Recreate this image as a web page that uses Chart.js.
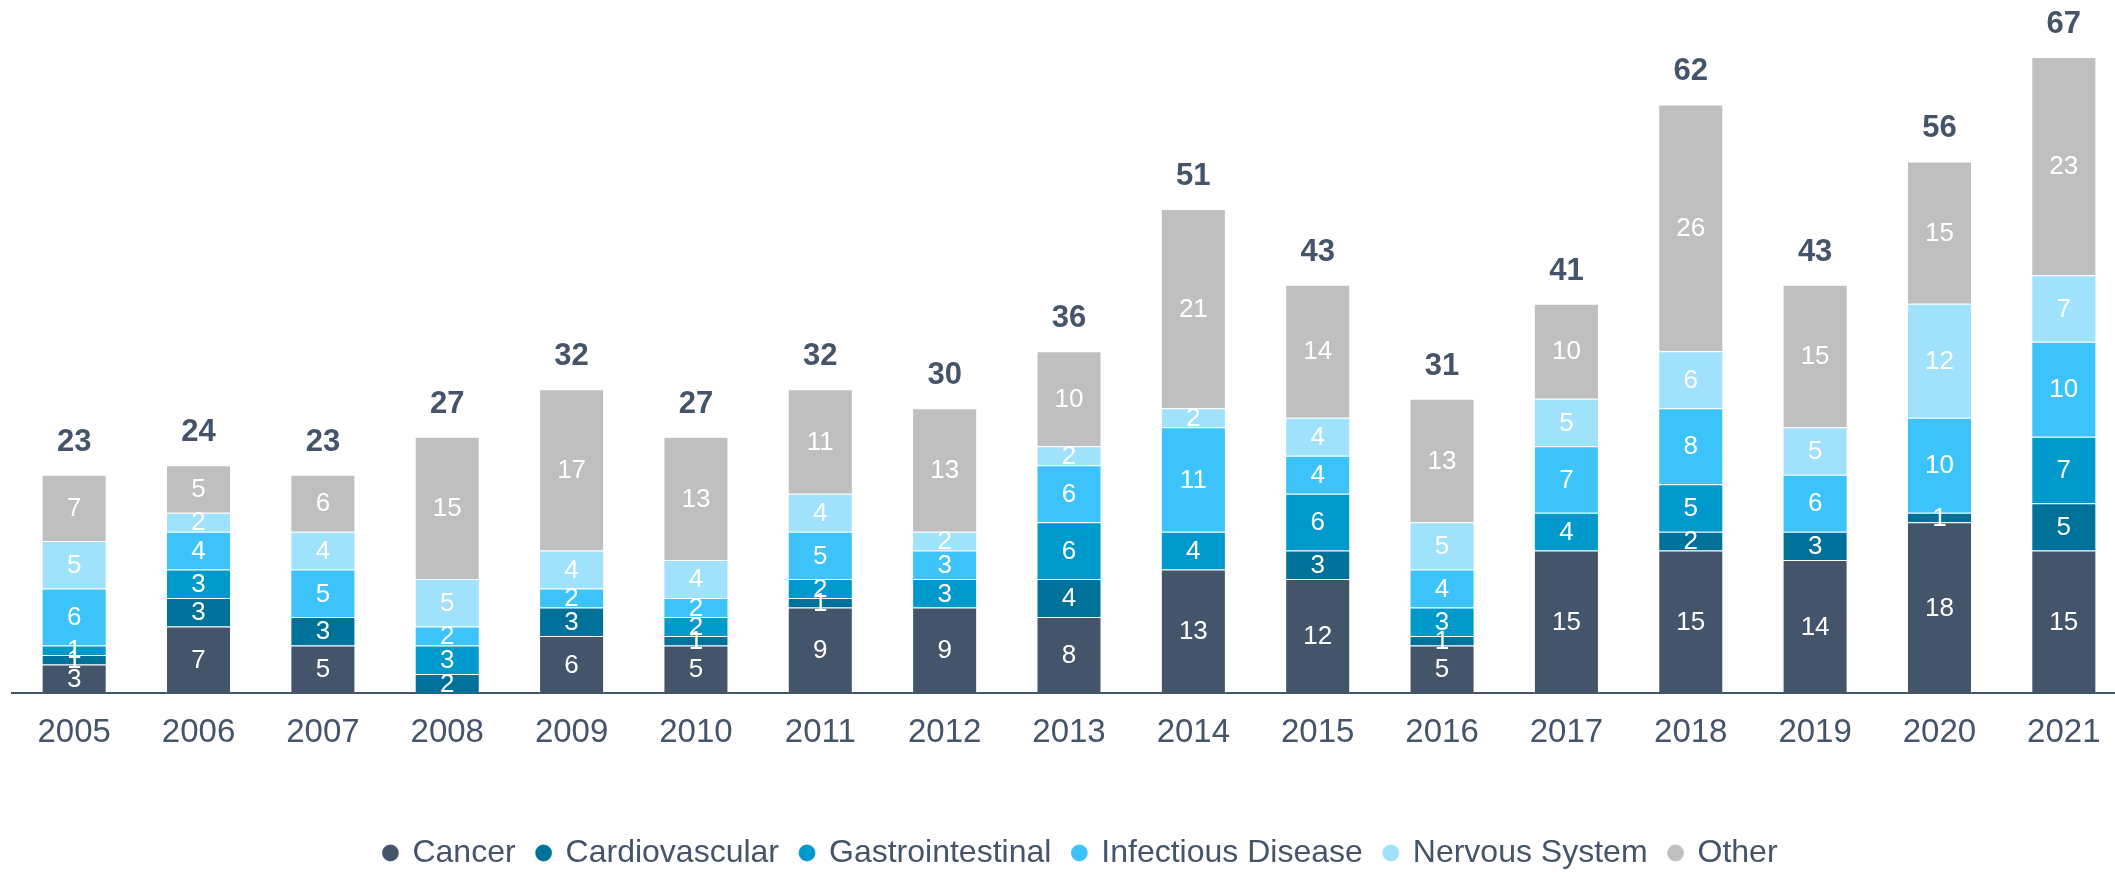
<!DOCTYPE html>
<html>
<head>
<meta charset="utf-8">
<script src="https://cdn.jsdelivr.net/npm/chart.js@4.4.1/dist/chart.umd.min.js"></script>
<style>
  html, body { margin: 0; padding: 0; background: #fff; overflow: hidden; }
  #outer { width: 2115px; height: 873px; overflow: hidden; position: relative; }
  #wrap { width: 2127px; height: 879px; position: absolute; left: 0; top: 0; }
</style>
</head>
<body>
<div id="outer"><div id="wrap"><canvas id="c"></canvas></div></div>
<script>
const years = ['2005','2006','2007','2008','2009','2010','2011','2012','2013','2014','2015','2016','2017','2018','2019','2020','2021'];
const cancer           = [3, 7, 5, 0, 6, 5, 9, 9, 8, 13, 12, 5, 15, 15, 14, 18, 15];
const cardiovascular   = [1, 3, 3, 2, 3, 1, 1, 0, 4, 0, 3, 1, 0, 2, 3, 1, 5];
const gastrointestinal = [1, 3, 0, 3, 0, 2, 2, 3, 6, 4, 6, 3, 4, 5, 0, 0, 7];
const infectious       = [6, 4, 5, 2, 2, 2, 5, 3, 6, 11, 4, 4, 7, 8, 6, 10, 10];
const nervous          = [5, 2, 4, 5, 4, 4, 4, 2, 2, 2, 4, 5, 5, 6, 5, 12, 7];
const other            = [7, 5, 6, 15, 17, 13, 11, 13, 10, 21, 14, 13, 10, 26, 15, 15, 23];
const totals           = [23, 24, 23, 27, 32, 27, 32, 30, 36, 51, 43, 31, 41, 62, 43, 56, 67];

const seriesNames  = ['Cancer', 'Cardiovascular', 'Gastrointestinal', 'Infectious Disease', 'Nervous System', 'Other'];
const seriesData   = [cancer, cardiovascular, gastrointestinal, infectious, nervous, other];
const seriesColors = ['#44546A', '#00729A', '#0099CC', '#3BC3FA', '#A0E1FB', '#BFBFBF'];

const TEXT = '#44546A';
const FONT = "'Liberation Sans', Arial, sans-serif";

const labelPlugin = {
  id: 'labels',
  afterLayout(chart) {
    if (chart.legend) { chart.legend.left += 12; chart.legend.right += 12; }
  },
  afterDatasetsDraw(chart) {
    const ctx = chart.ctx;
    ctx.save();
    ctx.textAlign = 'center';
    ctx.textBaseline = 'middle';
    ctx.fillStyle = '#ffffff';
    ctx.font = "26px " + FONT;
    chart.data.datasets.forEach((ds, di) => {
      const meta = chart.getDatasetMeta(di);
      meta.data.forEach((bar, i) => {
        const v = ds.data[i];
        if (!v) return;
        ctx.fillText(String(v), bar.x, (bar.y + bar.base) / 2 + 1);
      });
    });
    const ys = chart.scales.y;
    const first = chart.getDatasetMeta(0);
    ctx.font = "bold 31px " + FONT;
    ctx.fillStyle = TEXT;
    ctx.textBaseline = 'alphabetic';
    totals.forEach((t, i) => {
      const x = first.data[i].x;
      ctx.fillText(String(t), x, ys.getPixelForValue(t) - 24);
    });
    ctx.restore();
  }
};

new Chart(document.getElementById('c'), {
  type: 'bar',
  data: {
    labels: years,
    datasets: seriesNames.map((n, k) => ({
      label: n,
      data: seriesData[k],
      backgroundColor: seriesColors[k],
      borderColor: 'rgba(255,255,255,0.25)',
      borderWidth: 1,
      barPercentage: 0.523,
      categoryPercentage: 1.0
    }))
  },
  options: {
    responsive: true,
    maintainAspectRatio: false,
    animation: false,
    layout: { padding: { left: 12, right: 1, top: 57, bottom: 0 } },
    scales: {
      x: {
        stacked: true,
        grid: { display: false, drawTicks: false },
        border: { display: true, color: TEXT, width: 2 },
        ticks: { color: TEXT, font: { family: FONT, size: 33 }, padding: 20, maxRotation: 0 },
        afterFit(scale) { scale.height = 122; }
      },
      y: {
        stacked: true,
        display: false,
        min: 0,
        max: 67
      }
    },
    plugins: {
      legend: {
        position: 'bottom',
        labels: {
          usePointStyle: true,
          pointStyle: 'circle',
          boxWidth: 12,
          boxHeight: 12,
          padding: 22,
          color: TEXT,
          font: { family: FONT, size: 32 }
        }
      },
      tooltip: { enabled: false }
    }
  },
  plugins: [labelPlugin]
});
</script>
</body>
</html>
